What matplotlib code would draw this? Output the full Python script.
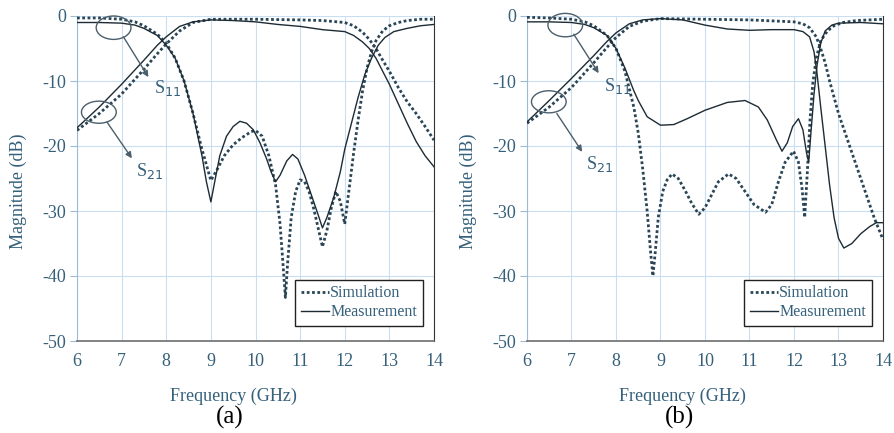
import matplotlib
matplotlib.use("Agg")
import matplotlib.pyplot as plt
from matplotlib.patches import Ellipse
from matplotlib.lines import Line2D
import numpy as np

plt.rcParams['font.family'] = ['Liberation Serif', 'DejaVu Serif']
plt.rcParams['axes.unicode_minus'] = False

# ---------------- Panel (a) data ----------------
a_s11_sim_f = [6.0, 6.5, 7.0, 7.3, 7.5, 7.8, 8.0, 8.2, 8.4, 8.6, 8.8, 9.0, 9.15, 9.3, 9.5, 9.7, 9.9, 10.0, 10.15, 10.3, 10.45, 10.55, 10.62, 10.67, 10.72, 10.8, 10.9, 11.0, 11.1, 11.2, 11.3, 11.4, 11.5, 11.6, 11.7, 11.8, 11.9, 12.0, 12.1, 12.2, 12.3, 12.4, 12.5, 12.6, 12.7, 12.85, 13.0, 13.2, 13.4, 13.7, 14.0]
a_s11_sim_v = [-0.3, -0.3, -0.5, -0.9, -1.5, -2.8, -4.2, -6.5, -10.0, -15.0, -20.5, -25.3, -23.5, -21.5, -19.8, -18.7, -17.8, -17.6, -18.5, -21.5, -26.0, -32.0, -38.5, -43.3, -38.0, -31.0, -27.0, -25.2, -25.5, -27.0, -29.5, -32.5, -35.5, -33.0, -29.5, -27.0, -28.5, -32.0, -26.5, -21.0, -16.0, -11.5, -8.0, -5.5, -3.8, -2.3, -1.5, -1.0, -0.7, -0.5, -0.5]

a_s11_mea_f = [6.0, 6.5, 7.0, 7.3, 7.5, 7.8, 8.0, 8.2, 8.4, 8.6, 8.8, 8.9, 9.0, 9.1, 9.2, 9.35, 9.5, 9.65, 9.8, 9.95, 10.1, 10.25, 10.35, 10.45, 10.55, 10.7, 10.83, 10.95, 11.1, 11.25, 11.4, 11.5, 11.6, 11.75, 11.9, 12.0, 12.15, 12.3, 12.45, 12.6, 12.75, 12.9, 13.1, 13.4, 13.7, 14.0]
a_s11_mea_v = [-1.0, -1.0, -1.1, -1.4, -1.9, -3.0, -4.5, -6.5, -10.0, -15.0, -21.5, -25.5, -28.6, -25.0, -21.5, -18.5, -17.0, -16.2, -16.5, -17.5, -19.5, -22.0, -24.0, -25.5, -24.5, -22.3, -21.3, -22.0, -24.5, -27.5, -30.5, -32.6, -31.0, -28.0, -24.0, -20.5, -16.5, -12.5, -9.0, -6.5, -4.5, -3.3, -2.4, -1.9, -1.5, -1.3]

a_s21_sim_f = [6.0, 6.5, 7.0, 7.5, 7.8, 8.0, 8.3, 8.6, 9.0, 10.0, 11.0, 11.5, 12.0, 12.2, 12.4, 12.55, 12.7, 12.85, 13.0, 13.2, 13.4, 13.6, 13.8, 14.0]
a_s21_sim_v = [-17.6, -15.0, -12.0, -8.2, -5.8, -4.3, -2.3, -1.0, -0.5, -0.5, -0.6, -0.7, -1.0, -1.5, -2.5, -3.6, -5.0, -6.8, -8.5, -11.0, -13.2, -15.0, -17.0, -19.1]

a_s21_mea_f = [6.0, 6.5, 7.0, 7.5, 7.8, 8.0, 8.3, 8.6, 9.0, 9.5, 10.0, 10.5, 11.0, 11.5, 12.0, 12.2, 12.4, 12.55, 12.7, 12.85, 13.0, 13.2, 13.4, 13.6, 13.8, 14.0]
a_s21_mea_v = [-17.2, -14.0, -10.5, -6.8, -4.5, -3.2, -1.6, -0.9, -0.6, -0.7, -0.9, -1.3, -1.6, -2.1, -2.4, -3.0, -4.0, -5.0, -6.5, -8.5, -10.5, -13.5, -16.5, -19.3, -21.5, -23.2]

# ---------------- Panel (b) data ----------------
b_s11_sim_f = [6.0, 6.5, 7.0, 7.3, 7.5, 7.8, 8.0, 8.2, 8.4, 8.5, 8.6, 8.7, 8.78, 8.83, 8.88, 8.95, 9.05, 9.15, 9.26, 9.4, 9.55, 9.7, 9.86, 10.0, 10.15, 10.3, 10.53, 10.7, 10.9, 11.1, 11.36, 11.5, 11.65, 11.8, 11.99, 12.1, 12.18, 12.24, 12.3, 12.36, 12.42, 12.5, 12.6, 12.75, 12.9, 13.1, 13.4, 13.7, 14.0]
b_s11_sim_v = [-0.2, -0.3, -0.5, -0.9, -1.5, -3.0, -5.0, -8.5, -14.0, -18.0, -23.5, -30.0, -36.5, -40.0, -36.5, -31.0, -27.0, -25.2, -24.3, -25.0, -26.8, -28.8, -30.5, -29.5, -27.5, -25.5, -24.3, -25.0, -27.0, -29.0, -30.2, -29.0, -25.5, -22.5, -20.8, -22.5, -26.5, -31.0, -24.0, -16.0, -10.5, -6.5, -3.8, -2.3, -1.5, -1.0, -0.7, -0.6, -0.5]

b_s11_mea_f = [6.0, 6.5, 7.0, 7.3, 7.5, 7.8, 8.0, 8.2, 8.4, 8.5, 8.7, 9.0, 9.3, 9.6, 10.0, 10.5, 10.9, 11.2, 11.4, 11.6, 11.73, 11.85, 11.97, 12.1, 12.2, 12.28, 12.33, 12.38, 12.45, 12.52, 12.6, 12.7, 12.85, 13.0, 13.5, 14.0]
b_s11_mea_v = [-0.9, -0.9, -1.0, -1.3, -1.8, -3.0, -5.0, -8.0, -11.5, -13.0, -15.5, -16.8, -16.7, -15.8, -14.5, -13.3, -13.0, -14.0, -16.0, -19.0, -20.8, -19.5, -17.0, -15.8, -17.5, -21.0, -22.5, -18.0, -12.0, -7.5, -4.2, -2.3, -1.4, -1.1, -1.0, -1.2]

b_s21_sim_f = [6.0, 6.5, 7.0, 7.5, 7.8, 8.0, 8.3, 8.6, 9.0, 10.0, 11.0, 12.0, 12.2, 12.35, 12.5, 12.6, 12.7, 12.8, 12.9, 13.0, 13.2, 13.4, 13.6, 13.8, 14.0]
b_s21_sim_v = [-16.5, -14.0, -11.0, -7.2, -4.8, -3.3, -1.6, -0.8, -0.4, -0.5, -0.6, -0.9, -1.2, -1.8, -3.2, -5.0, -7.2, -10.0, -12.5, -15.0, -19.0, -23.0, -27.0, -31.0, -34.4]

b_s21_mea_f = [6.0, 6.5, 7.0, 7.5, 7.8, 8.0, 8.3, 8.6, 9.0, 9.5, 10.0, 10.5, 11.0, 11.5, 12.0, 12.2, 12.35, 12.45, 12.52, 12.6, 12.7, 12.8, 12.9, 13.0, 13.12, 13.3, 13.5, 13.7, 13.85, 14.0]
b_s21_mea_v = [-16.3, -13.0, -9.6, -6.1, -3.9, -2.6, -1.2, -0.6, -0.4, -0.6, -1.4, -2.0, -2.2, -2.1, -2.1, -2.4, -3.2, -5.5, -9.0, -14.0, -20.0, -26.0, -31.0, -34.2, -35.7, -35.0, -33.5, -32.4, -31.8, -31.8]

x_ticks = [6, 7, 8, 9, 10, 11, 12, 13, 14]
y_ticks = [-50, -40, -30, -20, -10, 0]
legend_labels = ["Simulation", "Measurement"]
panel_labels = ["(a)", "(b)"]
x_label = "Frequency (GHz)"
y_label = "Magnitude (dB)"

GRID = '#c9def0'
SPINE = '#9dbbd4'
TXT = '#35607a'
LC_DOT = '#2a4656'
LC_SOL = '#1d2b34'
ANN = '#4b5f6c'

fig = plt.figure(figsize=(8.95, 4.33), dpi=100)
ax_a = fig.add_axes([77/895, 1-341/433, 357/895, 325/433])
ax_b = fig.add_axes([527/895, 1-341/433, 356/895, 325/433])

panels = [
    (ax_a, (a_s11_sim_f, a_s11_sim_v), (a_s11_mea_f, a_s11_mea_v),
     (a_s21_sim_f, a_s21_sim_v), (a_s21_mea_f, a_s21_mea_v),
     dict(e11=(6.82, -1.8), a11=((7.04, -3.2), (7.6, -9.4)), t11=(7.72, -11.0),
          e21=(6.49, -14.8), a21=((6.67, -16.3), (7.23, -21.9)), t21=(7.32, -23.8))),
    (ax_b, (b_s11_sim_f, b_s11_sim_v), (b_s11_mea_f, b_s11_mea_v),
     (b_s21_sim_f, b_s21_sim_v), (b_s21_mea_f, b_s21_mea_v),
     dict(e11=(6.86, -1.4), a11=((7.05, -2.8), (7.61, -8.8)), t11=(7.74, -10.8),
          e21=(6.49, -13.2), a21=((6.67, -15.0), (7.24, -20.9)), t21=(7.33, -22.8))),
]

dot_style = (0, (1.0, 0.9))
for i, (ax, s11s, s11m, s21s, s21m, ann) in enumerate(panels):
    ax.plot(*s11s, color=LC_DOT, lw=2.0, linestyle=dot_style, zorder=3)
    ax.plot(*s21s, color=LC_DOT, lw=2.0, linestyle=dot_style, zorder=3)
    ax.plot(*s11m, color=LC_SOL, lw=1.0, zorder=4)
    ax.plot(*s21m, color=LC_SOL, lw=1.0, zorder=4)

    ax.set_xlim(6, 14)
    ax.set_ylim(-50, 0)
    ax.set_xticks(x_ticks)
    ax.set_yticks(y_ticks)
    ax.grid(True, color=GRID, lw=0.8, zorder=0)
    ax.set_axisbelow(True)
    ax.spines['top'].set_visible(False)
    ax.spines['left'].set_color(SPINE)
    ax.spines['bottom'].set_color('#6e6e6e')
    ax.spines['bottom'].set_linewidth(1.2)
    ax.spines['right'].set_color('#333333')
    ax.spines['right'].set_linewidth(0.8)
    ax.tick_params(axis='both', colors=SPINE, labelcolor=TXT, labelsize=13,
                   direction='out', length=5, width=0.8)
    ax.tick_params(axis='x', length=0, pad=9)
    ax.tick_params(axis='y', pad=3)
    ax.set_xlabel(x_label, fontsize=13, color=TXT)
    ax.xaxis.set_label_coords(0.437, -0.145)
    ax.set_ylabel(y_label, fontsize=13, color=TXT)
    ax.yaxis.set_label_coords(-0.14, 0.46)

    # annotations
    ax.add_patch(Ellipse(ann['e11'], 0.78, 3.6, fill=False, ec=ANN, lw=1.0,
                         zorder=5, clip_on=False))
    ax.add_patch(Ellipse(ann['e21'], 0.78, 3.4, fill=False, ec=ANN, lw=1.0,
                         zorder=5, clip_on=False))
    for key in ['a11', 'a21']:
        p0, p1 = ann[key]
        ax.annotate('', xy=p1, xytext=p0,
                    arrowprops=dict(arrowstyle='-|>', color=ANN, lw=1.0,
                                    mutation_scale=9, shrinkA=0, shrinkB=0), zorder=5)
    ax.text(*ann['t11'], r'S$_{11}$', fontsize=13, color=TXT, ha='left', va='center')
    ax.text(*ann['t21'], r'S$_{21}$', fontsize=13, color=TXT, ha='left', va='center')

    handles = [Line2D([], [], color=LC_DOT, lw=2.0, linestyle=dot_style),
               Line2D([], [], color=LC_SOL, lw=1.0)]
    leg = ax.legend(handles, legend_labels, loc='lower right',
                    bbox_to_anchor=(0.968, 0.046), fontsize=11.5, frameon=True,
                    fancybox=False, edgecolor='#222222', framealpha=1,
                    handlelength=1.8, handletextpad=0.05, borderpad=0.35,
                    labelspacing=0.2, borderaxespad=0)
    leg.get_frame().set_linewidth(1.0)
    for t in leg.get_texts():
        t.set_color(TXT)

    fig.text((77 + 153 if i == 0 else 527 + 153) / 895, 1 - 417/433, panel_labels[i],
             fontsize=18, color='black', ha='center', va='center')

fig.savefig('out.png', dpi=100)
